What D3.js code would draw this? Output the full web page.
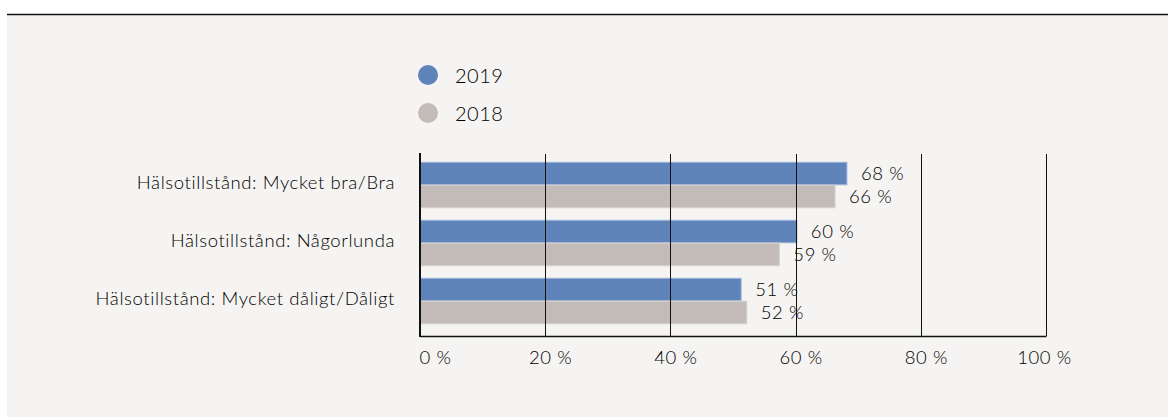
<!DOCTYPE html>
<html><head><meta charset="utf-8">
<script src="https://cdn.jsdelivr.net/npm/d3@7"></script>
<style>
html,body{margin:0;padding:0;background:#fff;}
svg{display:block;font-family:Lato,"Open Sans",sans-serif;font-weight:300;}
</style></head>
<body><svg id="c" width="1168" height="417"></svg>
<script>
const categories = ["Hälsotillstånd: Mycket bra/Bra", "Hälsotillstånd: Någorlunda", "Hälsotillstånd: Mycket dåligt/Dåligt"];
const seriesNames = ["2019", "2018"];
// bar lengths as drawn in the reference
const values2019 = [68.2, 60.2, 51.3];
const values2018 = [66.3, 57.4, 52.2];
// printed data labels
const labels2019 = ["68 %", "60 %", "51 %"];
const labels2018 = ["66 %", "59 %", "52 %"];
const tickValues = [0, 20, 40, 60, 80, 100];
const colors = ["#5f84b9", "#c2bbb8"];

(function () {
const svg = d3.select("#c");
const W = 1168, H = 417;
const FS = 18.5, LS = 0.6, TXT = "#000";
svg.append("rect").attr("x", 7).attr("y", 15).attr("width", W - 7).attr("height", H - 15).attr("fill", "#f5f4f2");
svg.append("line").attr("x1", 7).attr("x2", W).attr("y1", 14.5).attr("y2", 14.5).attr("stroke", "#111").attr("stroke-width", 1.5);

const pL = 420, pR = 1046, pT = 154, pB = 336;
const x = d3.scaleLinear().domain([0, 100]).range([pL, pR]);
const y0 = d3.scaleBand().domain(categories).range([156, 330]).paddingInner(0.2).paddingOuter(0.1);
const y1 = d3.scaleBand().domain(seriesNames).range([0, y0.bandwidth()]).padding(0.02);

const data = categories.map((c, i) => ({cat: c, vals: [values2019[i], values2018[i]], labs: [labels2019[i], labels2018[i]]}));

const g = svg.append("g");
data.forEach(d => {
  seriesNames.forEach((s, j) => {
    const v = d.vals[j];
    const yy = y0(d.cat) + y1(s);
    g.append("rect").attr("x", x(0)).attr("y", yy).attr("width", x(v) - x(0)).attr("height", y1.bandwidth())
      .attr("fill", colors[j]).attr("stroke", j === 0 ? "#9fb6d8" : "#d6d1cf").attr("stroke-width", 1);
    g.append("text").attr("x", x(v) + 14).attr("y", yy + y1.bandwidth() / 2).attr("dy", "0.35em")
      .attr("font-size", FS).attr("letter-spacing", LS).attr("fill", TXT).text(d.labs[j]);
  });
  svg.append("text").attr("x", 395).attr("y", y0(d.cat) + y0.bandwidth() / 2 - 2.5).attr("dy", "0.35em")
    .attr("text-anchor", "end").attr("font-size", FS).attr("letter-spacing", LS).attr("fill", TXT).text(d.cat);
});

svg.append("g").selectAll("line").data(tickValues.slice(1)).join("line")
  .attr("x1", d => Math.round(x(d)) + 0.5).attr("x2", d => Math.round(x(d)) + 0.5)
  .attr("y1", pT).attr("y2", pB).attr("stroke", "#111").attr("stroke-width", 1);

const xAxis = d3.axisBottom(x).tickValues(tickValues).tickFormat(d => d + " %").tickSize(0).tickPadding(14.5);
const ax = svg.append("g").attr("transform", `translate(0,${pB})`).call(xAxis);
ax.select(".domain").attr("stroke", "#111").attr("stroke-width", 1.5);
ax.selectAll("text").attr("font-size", FS).attr("letter-spacing", LS).attr("fill", TXT).attr("font-family", "Lato,'Open Sans',sans-serif")
  .attr("dx", d => d === 0 ? 15 : d === 100 ? -2 : 5);
svg.append("line").attr("x1", pL).attr("x2", pL).attr("y1", pT - 1).attr("y2", pB + 1).attr("stroke", "#111").attr("stroke-width", 2);

seriesNames.forEach((s, j) => {
  const ly = 75 + j * 38;
  svg.append("circle").attr("cx", 428).attr("cy", ly).attr("r", 10).attr("fill", colors[j]);
  svg.append("text").attr("x", 455).attr("y", ly + 1).attr("dy", "0.36em").attr("font-size", 20).attr("letter-spacing", 0.5).attr("fill", TXT).text(s);
});
})();
</script></body></html>
